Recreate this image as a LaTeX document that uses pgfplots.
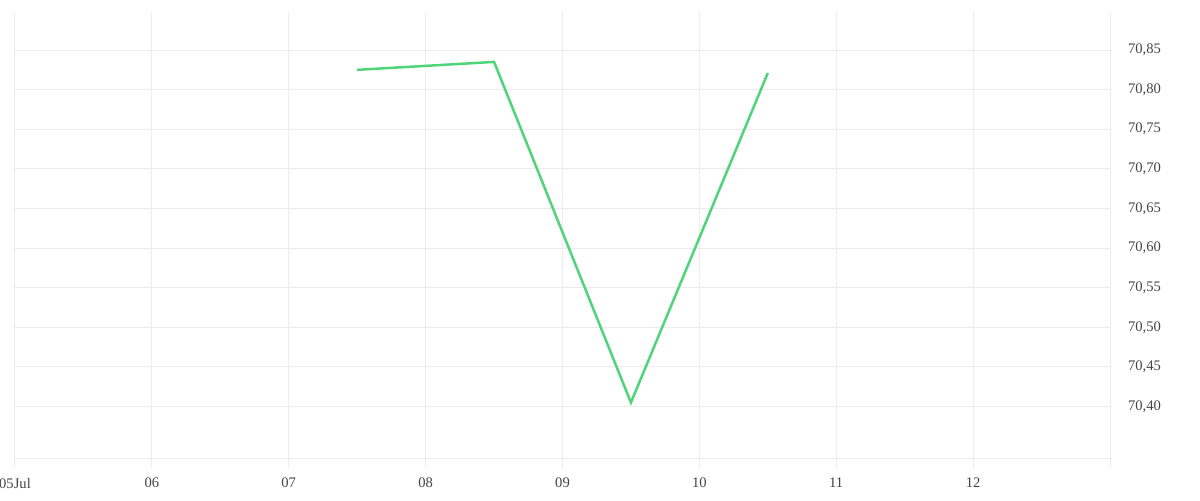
\documentclass[border=0pt]{standalone}
\usepackage{fontspec}
\setmainfont{Liberation Serif}
\usepackage{pgfplots}
\pgfplotsset{compat=1.18}

\definecolor{linegreen}{RGB}{80,212,122}
\definecolor{gridgray}{RGB}{236,236,236}
\definecolor{labelgray}{RGB}{68,68,68}

\begin{document}
\begin{tikzpicture}
\useasboundingbox (0,0) rectangle (600pt,250pt);
\begin{axis}[
    at={(7.5pt,21pt)}, anchor=south west,
    scale only axis,
    width=547.5pt, height=223pt,
    xmin=5, xmax=13,
    ymin=70.335, ymax=70.898,
    axis x line*=bottom,
    axis y line*=right,
    x axis line style={gridgray, line width=0.5pt, -},
    y axis line style={draw=none},
    xtick={5,6,7,8,9,10,11,12,13},
    xticklabels={05Jul,06,07,08,09,10,11,12,{}},
    ytick={70.40,70.45,70.50,70.55,70.60,70.65,70.70,70.75,70.80,70.85},
    xmajorgrids=true, ymajorgrids=true,
    grid style={gridgray, line width=0.5pt},
    tick align=outside,
    major tick length=5pt,
    xtick style={gridgray, line width=0.5pt},
    ytick style={draw=none},
    tick label style={font=\fontsize{7.3}{8}\selectfont, text=labelgray},
    xticklabel style={yshift=-1.5pt},
    yticklabel style={anchor=west, xshift=0.5pt},
    /pgf/number format/assume math mode=true,
    /pgf/number format/.cd, use comma, fixed, fixed zerofill, precision=2,
]
\addplot[color=linegreen, line width=1.25pt, line join=miter] coordinates {
    (7.5,70.825) (8.5,70.835) (9.5,70.405) (10.5,70.821)
};
\end{axis}
\end{tikzpicture}
\end{document}
